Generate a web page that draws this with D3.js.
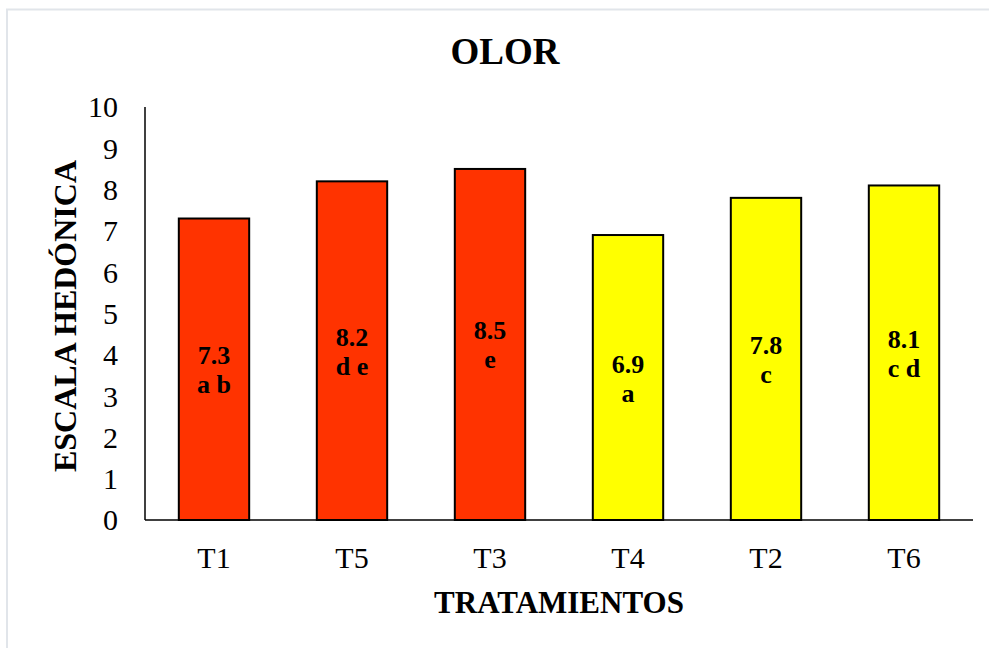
<!DOCTYPE html>
<meta charset="utf-8">
<style>
body { margin: 0; background: #fff; }
text { font-family: "Liberation Serif", "Times New Roman", serif; fill: #000; }
.axis path { stroke: #000; stroke-width: 1.5px; }
.axis line { display: none; }
.title, .label { font-weight: bold; }
.bar { stroke: #000; stroke-width: 2px; }
.bar-cap { font-size: 26px; font-weight: bold; }
</style>
<svg width="989" height="648"></svg>
<script src="https://cdn.jsdelivr.net/npm/d3@7"></script>
<script>

var categories = ["T1", "T5", "T3", "T4", "T2", "T6"],
    values = [7.3, 8.2, 8.5, 6.9, 7.8, 8.1],
    letters = ["a b", "d e", "e", "a", "c", "c d"],
    colors = ["#ff3300", "#ff3300", "#ff3300", "#ffff00", "#ffff00", "#ffff00"],
    yTicks = [0, 1, 2, 3, 4, 5, 6, 7, 8, 9, 10];

var svg = d3.select("svg"),
    margin = {top: 107, right: 16, bottom: 128, left: 145},
    width = svg.attr("width") - margin.left - margin.right,
    height = svg.attr("height") - margin.top - margin.bottom;

// chart frame
svg.append("rect")
    .attr("x", 7).attr("y", 9.5)
    .attr("width", 1000).attr("height", 700)
    .attr("fill", "none")
    .attr("stroke", "#e1e5ea")
    .attr("stroke-width", 2);

var g = svg.append("g").attr("transform", "translate(" + margin.left + "," + margin.top + ")");

var x = d3.scaleBand().domain(categories).range([0, width]).paddingInner(0.49).paddingOuter(0.245),
    y = d3.scaleLinear().domain([0, 10]).range([height, 0]);

g.append("g")
    .attr("class", "axis axis--y")
    .call(d3.axisLeft(y).tickValues(yTicks).tickSize(0).tickPadding(27).tickSizeOuter(0))
  .selectAll("text")
    .attr("dy", "0.33em");

var bar = g.selectAll(".bar-g")
  .data(categories)
  .enter().append("g");

bar.append("rect")
    .attr("class", "bar")
    .attr("x", function(d) { return x(d); })
    .attr("width", x.bandwidth())
    .attr("y", function(d, i) { return y(values[i]); })
    .attr("height", function(d, i) { return height - y(values[i]); })
    .attr("fill", function(d, i) { return colors[i]; });

bar.append("text")
    .attr("class", "bar-cap")
    .attr("text-anchor", "middle")
    .attr("x", function(d) { return x(d) + x.bandwidth() / 2; })
    .attr("y", function(d, i) { return y(values[i] / 2) - 5; })
    .text(function(d, i) { return values[i].toFixed(1); });

bar.append("text")
    .attr("class", "bar-cap")
    .attr("text-anchor", "middle")
    .attr("x", function(d) { return x(d) + x.bandwidth() / 2; })
    .attr("y", function(d, i) { return y(values[i] / 2) + 24; })
    .text(function(d, i) { return letters[i]; });

g.append("g")
    .attr("class", "axis axis--x")
    .attr("transform", "translate(0," + height + ")")
    .call(d3.axisBottom(x).tickSize(0).tickPadding(27).tickSizeOuter(0))
  .selectAll("text")
    .attr("dy", "0.71em");

g.selectAll(".axis text").style("font-family", "Liberation Serif").style("font-size", "30px");
g.select(".axis--y .domain").attr("d", "M0," + height + "V0");
g.select(".axis--x .domain").attr("d", "M0,0H" + width);

svg.append("text")
    .attr("class", "title")
    .attr("x", 505).attr("y", 64)
    .attr("text-anchor", "middle")
    .style("font-size", "37px")
    .text("OLOR");

svg.append("text")
    .attr("class", "label")
    .attr("x", margin.left + width / 2).attr("y", 613)
    .attr("text-anchor", "middle")
    .style("font-size", "31px")
    .text("TRATAMIENTOS");

svg.append("text")
    .attr("class", "label")
    .attr("transform", "translate(76," + 316 + ") rotate(-90)")
    .attr("text-anchor", "middle")
    .style("font-size", "32px")
    .text("ESCALA HEDÓNICA");

</script>
